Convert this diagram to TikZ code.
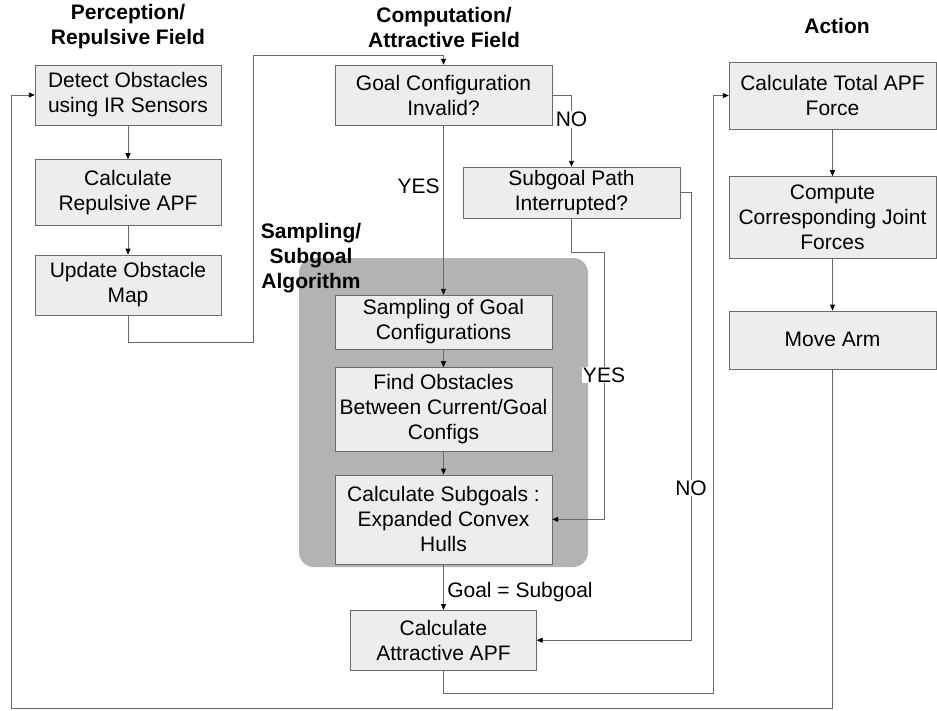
\documentclass[tikz,border=0pt]{standalone}
\usepackage{fontspec}
\setmainfont{Liberation Sans}
\usetikzlibrary{positioning,arrows.meta}
\definecolor{boxfill}{HTML}{EDEDED}
\definecolor{boxline}{HTML}{6A6A6A}
\definecolor{zonefill}{HTML}{B3B3B3}

\begin{document}
\begin{tikzpicture}[
      x=1pt, y=-1pt,
      node distance=30pt,
      every node/.style={
        align=center,
        font=\fontsize{21}{25}\selectfont
      },
      stepbox/.style={
        draw=boxline, fill=boxfill, inner sep=0pt,
        minimum width=217pt
      },
      title/.style={font=\fontsize{21}{25}\selectfont\bfseries},
      tag/.style={fill=white, inner sep=1pt},
      >={Triangle[length=6pt,width=5pt,color=black]}
    ]
    \useasboundingbox (0,0) rectangle (937,710);

    % Sampling zone
    \fill[zonefill, rounded corners=15pt] (299,258) rectangle (588,567);

    % Titles
    \node (perception) [title] at (128,27) {Perception/\\Repulsive Field};
    \node (computation) [title] at (444,27) {Computation/\\Attractive Field};
    \node (action) [title] at (837,26) {Action};
    \node (samplingtitle) [title] at (311,258) {Sampling/\\Subgoal\\Algorithm};

    % Column 1
    \node (detect) [stepbox, minimum width=186pt, minimum height=60pt] at (128,95) {Detect Obstacles\\using IR Sensors};
    \node (repulsive) [stepbox, minimum width=186pt, minimum height=66pt, below=34pt of detect] {Calculate\\Repulsive APF};
    \node (update) [stepbox, minimum width=186pt, minimum height=60pt, below=29pt of repulsive] {Update Obstacle\\Map};

    % Column 2
    \node (goal) [stepbox, minimum height=60pt] at (443.5,95) {Goal Configuration\\Invalid?};
    \node (interrupted) [stepbox, minimum height=51pt] at (571.5,192.5) {Subgoal Path\\Interrupted?};
    \node (sampling) [stepbox, minimum height=54pt] at (443.5,322) {Sampling of Goal\\Configurations};
    \node (obstacles) [stepbox, minimum height=84pt, below=18pt of sampling] {Find Obstacles\\Between Current/Goal\\Configs};
    \node (subgoals) [stepbox, minimum height=89pt, below=23pt of obstacles] {Calculate Subgoals :\\Expanded Convex\\Hulls};
    \node (attractive) [stepbox, minimum width=186pt, minimum height=60pt, below=46pt of subgoals] {Calculate\\Attractive APF};

    % Column 3
    \node (total) [stepbox, minimum width=207pt, minimum height=67pt] at (832.5,95.5) {Calculate Total APF\\Force};
    \node (joint) [stepbox, minimum width=207pt, minimum height=82pt, below=47pt of total] {Compute\\Corresponding Joint\\Forces};
    \node (move) [stepbox, minimum width=207pt, minimum height=58pt, below=52pt of joint] {Move Arm};

    % Arrows
    \begin{scope}[draw=boxline, line width=0.9pt]
    \draw[->] (detect) -- (repulsive);
    \draw[->] (repulsive) -- (update);
    \draw[->] (update.south) |- (253,342) -- (253,55) -| (goal.north);
    \draw[->] (goal) -- node [left, pos=0.36] {YES} (sampling);
    \draw[->] (goal.east) -| node [tag, pos=0.67] {NO} (interrupted.north);
    \draw[->] (interrupted.south) |- (604,252) |- node [tag, pos=0.23] {YES} (subgoals.east);
    \draw[->] (interrupted.east) -- (691,192.5) |- node [tag, pos=0.33] {NO} (attractive.east);
    \draw[->] (sampling) -- (obstacles);
    \draw[->] (obstacles) -- (subgoals);
    \draw[->] (subgoals) -- node [right, pos=0.6] {Goal = Subgoal} (attractive);
    \draw[->] (attractive.south) |- (713,693) |- (total.west);
    \draw[->] (total) -- (joint);
    \draw[->] (joint) -- (move);
    \draw[->] (move.south) |- (11,708) |- (detect.west);
    \end{scope}
  \end{tikzpicture}
\end{document}
